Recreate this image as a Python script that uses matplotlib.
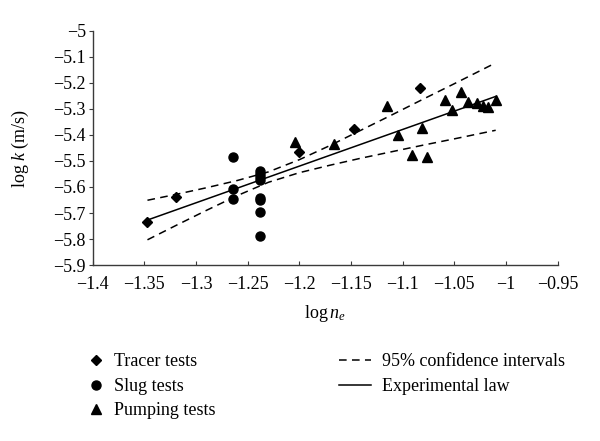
import numpy as np
import matplotlib
matplotlib.use("Agg")
import matplotlib.pyplot as plt
from matplotlib.lines import Line2D

plt.rcParams["font.family"] = ["Liberation Serif", "DejaVu Serif"]
plt.rcParams["mathtext.fontset"] = "custom"
plt.rcParams["mathtext.rm"] = "Liberation Serif"
plt.rcParams["mathtext.it"] = "Liberation Serif:italic"

# Tracer tests
tracer_x = [-1.347, -1.319, -1.200, -1.147, -1.083]
tracer_y = [-5.736, -5.638, -5.467, -5.379, -5.220]

# Slug tests
slug_x = [-1.264, -1.264, -1.264, -1.238, -1.238, -1.238, -1.238,
          -1.238, -1.238, -1.238, -1.238]
slug_y = [-5.484, -5.609, -5.645, -5.538, -5.551, -5.563, -5.575,
          -5.641, -5.651, -5.698, -5.788]

# Pumping tests
pump_x = [-1.204, -1.166, -1.115, -1.105, -1.091, -1.081, -1.076, -1.059,
          -1.052, -1.044, -1.037, -1.028, -1.022, -1.017, -1.010]
pump_y = [-5.426, -5.435, -5.288, -5.401, -5.478, -5.373, -5.483, -5.266,
          -5.305, -5.234, -5.275, -5.279, -5.289, -5.294, -5.264]

# Experimental law (end points)
law_x = [-1.347, -1.010]
law_y = [-5.727, -5.252]

# 95% confidence intervals
ci_x = [-1.347, -1.32, -1.29, -1.26, -1.23, -1.20, -1.17, -1.14,
        -1.11, -1.08, -1.05, -1.01]
ci_up = [-5.651, -5.629, -5.603, -5.575, -5.542, -5.495, -5.440, -5.381,
         -5.322, -5.262, -5.203, -5.123]
ci_lo = [-5.803, -5.749, -5.690, -5.633, -5.582, -5.545, -5.516, -5.489,
         -5.464, -5.439, -5.415, -5.382]

fig = plt.figure(figsize=(6, 4.41), dpi=100)
ax = fig.add_axes([0.1545, 0.399, 0.775, 0.531])

dash = (0, (5, 3.5))
ax.plot(ci_x, ci_up, color="black", lw=1.1, linestyle=dash)
ax.plot(ci_x, ci_lo, color="black", lw=1.1, linestyle=dash)
ax.plot(law_x, law_y, color="black", lw=1.1)

ax.plot(tracer_x, tracer_y, "D", color="black", ms=5.5, ls="none")
ax.plot(slug_x, slug_y, "o", color="black", ms=6.5, ls="none")
ax.plot(pump_x, pump_y, "^", color="black", ms=7, ls="none")

ax.set_xlim(-1.4, -0.95)
ax.set_ylim(-5.9, -5.0)
ax.set_xticks(np.arange(-1.4, -0.949, 0.05))
ax.set_yticks(np.arange(-5.9, -4.99, 0.1))
ax.set_xticklabels(["\u22121.4", "\u22121.35", "\u22121.3", "\u22121.25", "\u22121.2",
                    "\u22121.15", "\u22121.1", "\u22121.05", "\u22121", "\u22120.95"])
ax.set_yticklabels(["\u22125.9", "\u22125.8", "\u22125.7", "\u22125.6", "\u22125.5",
                    "\u22125.4", "\u22125.3", "\u22125.2", "\u22125.1", "\u22125"])

for s in ["top", "right"]:
    ax.spines[s].set_visible(False)
for s in ["left", "bottom"]:
    ax.spines[s].set_color("#3a3a3a")
    ax.spines[s].set_linewidth(1.0)

ax.tick_params(axis="x", direction="in", length=3, color="#3a3a3a",
               labelsize=13, pad=8)
ax.tick_params(axis="y", direction="out", length=3, color="#3a3a3a",
               labelsize=13, pad=2)

ax.set_xlabel(r"log$\,n_e$", fontsize=13, va="center")
ax.xaxis.set_label_coords(0.5, -0.205)
ax.set_ylabel(r"log $k$ (m/s)", fontsize=13, va="center")
ax.yaxis.set_label_coords(-0.155, 0.5)

# Legend below the chart
left_handles = [
    Line2D([], [], marker="D", color="black", ls="none", ms=5.5),
    Line2D([], [], marker="o", color="black", ls="none", ms=6.5),
    Line2D([], [], marker="^", color="black", ls="none", ms=7),
]
fig.legend(left_handles, ["Tracer tests", "Slug tests", "Pumping tests"],
           loc="upper left", bbox_to_anchor=(0.148, 0.199), frameon=False,
           fontsize=13, handlelength=0.8, handletextpad=0.6,
           labelspacing=0.42, borderpad=0, borderaxespad=0)

right_handles = [
    Line2D([], [], color="black", lw=1.1, linestyle=dash),
    Line2D([], [], color="black", lw=1.1),
]
fig.legend(right_handles, ["95% confidence intervals", "Experimental law"],
           loc="upper left", bbox_to_anchor=(0.565, 0.199), frameon=False,
           fontsize=13, handlelength=1.8, handletextpad=0.6,
           labelspacing=0.42, borderpad=0, borderaxespad=0)

fig.savefig("out.png", dpi=100)
